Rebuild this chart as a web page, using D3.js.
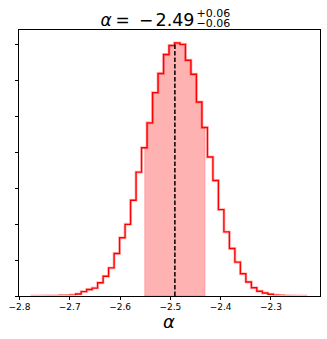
<!DOCTYPE html>
<html lang="en">
<head>
<meta charset="utf-8">
<script src="https://cdn.jsdelivr.net/npm/d3@7/dist/d3.min.js"></script>
<style>
  body { margin: 0; background: #fff; }
  svg text { font-family: "DejaVu Sans", sans-serif; fill: #000; }
  .axis path, .axis line { stroke: #000; shape-rendering: crispEdges; }
</style>
</head>
<body>
<script>
// histogram of alpha samples (density per bin)
var binStart = -2.7746;
var binWidth = 0.010916;
var density = [0.002, 0.003, 0.004, 0.006, 0.008, 0.012, 0.015, 0.025, 0.056, 0.122,
               0.18, 0.22, 0.37, 0.55, 0.78, 1.18, 1.62, 1.99, 2.66, 3.44,
               4.12, 4.81, 5.65, 6.18, 6.71, 6.96, 7.03, 6.99, 6.55, 6.16,
               5.39, 4.68, 3.86, 3.21, 2.40, 1.78, 1.32, 0.94, 0.62, 0.39,
               0.23, 0.13, 0.083, 0.047, 0.02, 0.012, 0.007, 0.004, 0.003, 0.002];
var alphaMedian = -2.49;
var alphaBand = [-2.55, -2.43];
var xTicks = [-2.8, -2.7, -2.6, -2.5, -2.4, -2.3];
var yTicks = [0, 1, 2, 3, 4, 5, 6, 7];

var w = 327, h = 339;
var marginLeft = 18, marginRight = 7, marginTop = 29.5, marginBottom = 43;

var svg = d3.select("body").append("svg").attr("width", w).attr("height", h);

var edges = d3.range(density.length + 1).map(function(i) { return binStart + i * binWidth; });
var lo = edges[0], hi = edges[edges.length - 1];
var pad = 0.05 * (hi - lo);
var yMax = d3.max(density);

var x = d3.scaleLinear().domain([lo - pad, hi + pad]).range([marginLeft, w - marginRight]);
var y = d3.scaleLinear().domain([0, yMax * 1.053]).range([h - marginBottom, marginTop]);

// keep the histogram mostly above the bottom spine
svg.append("clipPath").attr("id", "plotClip")
  .append("rect")
  .attr("x", marginLeft).attr("y", marginTop)
  .attr("width", w - marginLeft - marginRight)
  .attr("height", y(0) - marginTop - 0.8);

// step outline points
var stepPts = [[lo, 0]];
density.forEach(function(d, i) {
  stepPts.push([edges[i], d]);
  stepPts.push([edges[i + 1], d]);
});
stepPts.push([hi, 0]);

// shaded credible band under the histogram
function densityAt(v) {
  var i = Math.min(density.length - 1, Math.max(0, Math.floor((v - lo) / binWidth)));
  return density[i];
}
var bandPts = [[alphaBand[0], densityAt(alphaBand[0])]];
edges.forEach(function(e) {
  if (e > alphaBand[0] && e < alphaBand[1]) bandPts.push([e, densityAt(e + binWidth / 2)]);
});
bandPts.push([alphaBand[1], densityAt(alphaBand[1] - 1e-9)]);

var area = d3.area()
  .curve(d3.curveStepAfter)
  .x(function(d) { return x(d[0]); })
  .y0(y(0))
  .y1(function(d) { return y(d[1]); });

svg.append("path")
  .attr("d", area(bandPts))
  .attr("fill", "red")
  .attr("fill-opacity", 0.3)
  .attr("stroke", "red")
  .attr("stroke-opacity", 0.2)
  .attr("stroke-width", 1);

var line = d3.line()
  .x(function(d) { return x(d[0]); })
  .y(function(d) { return y(d[1]); });

// soft halo then the red step line
var hist = svg.append("g").attr("clip-path", "url(#plotClip)");
hist.append("path")
  .attr("d", line(stepPts))
  .attr("fill", "none")
  .attr("stroke", "red")
  .attr("stroke-opacity", 0.25)
  .attr("stroke-width", 3);
hist.append("path")
  .attr("d", line(stepPts))
  .attr("fill", "none")
  .attr("stroke", "red")
  .attr("stroke-width", 1.4);

// median line
svg.append("line")
  .attr("x1", x(alphaMedian)).attr("x2", x(alphaMedian))
  .attr("y1", y(0)).attr("y2", y(yMax))
  .attr("stroke", "#000")
  .attr("stroke-width", 1.5)
  .attr("stroke-dasharray", "4.5,2");

// axes
var xAxis = d3.axisBottom(x).tickValues(xTicks).tickSize(3.5).tickPadding(4.5)
  .tickFormat(function(d) { return d3.format(".1f")(d).replace("-", "\u2212"); });
var gx = svg.append("g")
  .attr("class", "axis")
  .attr("transform", "translate(0," + y(0) + ")")
  .call(xAxis);
gx.select(".domain").remove();
gx.selectAll("text").attr("font-size", 9);

var yAxis = d3.axisLeft(y).tickValues(yTicks).tickSize(3.5).tickFormat("");
var gy = svg.append("g")
  .attr("class", "axis")
  .attr("transform", "translate(" + marginLeft + ",0)")
  .call(yAxis);
gy.select(".domain").remove();

// frame
svg.append("rect")
  .attr("x", marginLeft).attr("y", marginTop)
  .attr("width", w - marginLeft - marginRight)
  .attr("height", h - marginTop - marginBottom)
  .attr("fill", "none")
  .attr("stroke", "#000")
  .attr("stroke-width", 1)
  .attr("shape-rendering", "crispEdges");

// x label
svg.append("text")
  .attr("x", (marginLeft + w - marginRight) / 2)
  .attr("y", 328)
  .attr("text-anchor", "middle")
  .attr("font-size", 18)
  .attr("font-style", "italic")
  .text("\u03b1");

// title: alpha = -2.49 (+0.06, -0.06)
var title = svg.append("g");
title.append("text").attr("x", 100.5).attr("y", 26).attr("font-size", 17)
  .attr("font-style", "italic").text("\u03b1");
title.append("text").attr("x", 115.5).attr("y", 26).attr("font-size", 17).text("=");
title.append("text").attr("x", 139).attr("y", 26).attr("font-size", 17).text("\u2212");
title.append("text").attr("x", 155.5).attr("y", 26).attr("font-size", 17.5).text("2.49");
title.append("text").attr("x", 196.5).attr("y", 16.5).attr("font-size", 11).text("+0.06");
title.append("text").attr("x", 196.5).attr("y", 27).attr("font-size", 11).text("\u22120.06");
</script>
</body>
</html>
